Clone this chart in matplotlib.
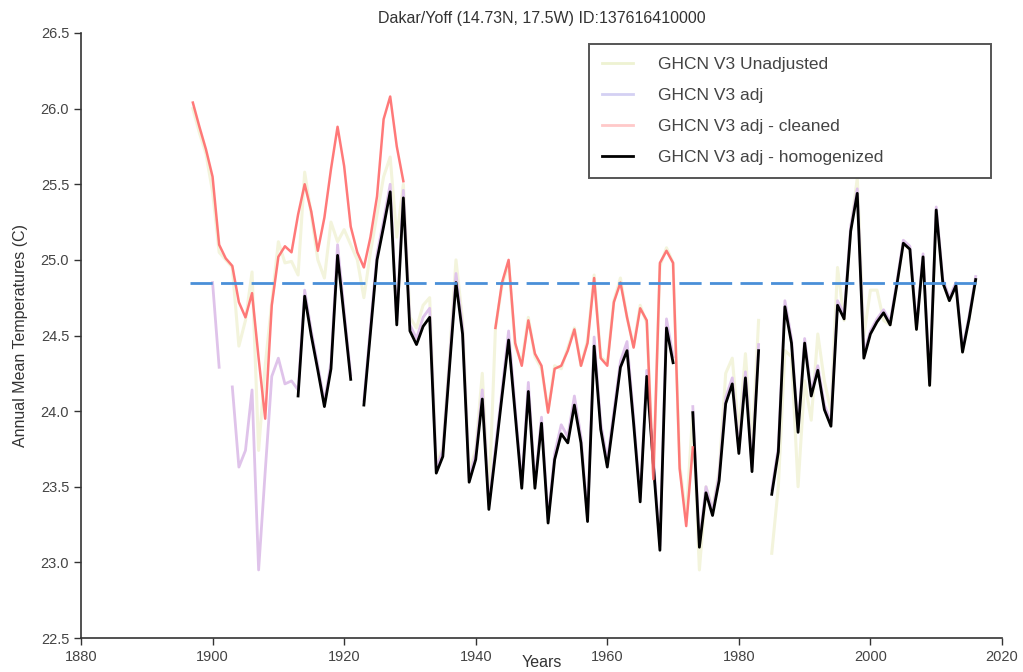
import numpy as np
import matplotlib
matplotlib.use("Agg")
import matplotlib.pyplot as plt
from matplotlib.lines import Line2D

plt.rcParams['font.family'] = ['Liberation Sans', 'DejaVu Sans']

years = np.arange(1897, 2017)

# GHCN V3 unadjusted
unadj = np.array([
    26.00, 25.84, 25.70,
    25.45, 25.05, 25.00, 24.95, 24.43, 24.60, 24.92, 23.74, 24.30, 24.72,
    25.12, 24.98, 24.99, 24.90, 25.58, 25.30, 25.00, 24.88, 25.25, 25.12,
    25.20, 25.10, 25.00, 24.75, 25.05, 25.30, 25.55, 25.68, 25.15, 25.50,
    24.62, 24.55, 24.70, 24.75, 23.65, 23.76, 24.35, 25.00, 24.60, 23.60,
    23.75, 24.25, 23.40, 24.55, 24.83, 24.98, 24.43, 24.32, 24.62, 24.36,
    24.28, 24.00, 24.30, 24.28, 24.42, 24.55, 24.30, 24.47, 24.90, 24.36,
    24.32, 24.73, 24.88, 24.62, 24.43, 24.70, 24.58, 23.58, 24.96, 25.08,
    24.98, 23.65, 23.30, 24.00, 22.95, 23.50, 23.35, 23.60, 24.25, 24.35,
    23.85, 24.38, 23.75, 24.60, None, 23.06, 23.50, 24.40, 24.36, 23.50,
    24.20, 23.94, 24.51, 24.20, 24.00, 24.95, 24.60, 25.20, 25.54, 24.50,
    24.80, 24.80, 24.60, 24.57, 24.83, 25.11, 25.07, 24.54, 25.02, 24.17,
    25.33, 24.85, 24.73, 24.83, 24.39, 24.61, 24.87,
], dtype=float)

# GHCN V3 adj
adj = np.array([
    None, None, None,
    24.85, 24.29, None, 24.16, 23.63, 23.74, 24.14, 22.95, 23.60, 24.23,
    24.35, 24.18, 24.20, 24.14, 24.80, 24.53, 24.30, 24.06, 24.32, 25.10,
    24.66, 24.24, None, 24.07, 24.56, 25.04, 25.26, 25.50, 24.60, 25.46,
    24.57, 24.48, 24.62, 24.68, 23.62, 23.74, 24.32, 24.91, 24.55, 23.56,
    23.72, 24.14, 23.38, 23.76, 24.14, 24.53, 24.02, 23.52, 24.19, 23.52,
    23.96, 23.29, 23.72, 23.91, 23.83, 24.10, 23.83, 23.30, 24.49, 23.92,
    23.67, 24.00, 24.33, 24.46, 23.96, 23.43, 24.27, 23.69, 23.11, 24.61,
    24.36, None, None, 24.03, 23.13, 23.50, 23.34, 23.58, 24.09, 24.22,
    23.75, 24.26, 23.63, 24.44, None, 23.48, 23.76, 24.73, 24.48, 23.89,
    24.48, 24.13, 24.30, 24.04, 23.93, 24.73, 24.64, 25.22, 25.47, 24.38,
    24.53, 24.61, 24.67, 24.59, 24.85, 25.13, 25.09, 24.56, 25.04, 24.19,
    25.35, 24.87, 24.75, 24.85, 24.41, 24.63, 24.89,
], dtype=float)

# GHCN V3 adj - cleaned
cleaned = np.array([
    26.04, 25.88, 25.73,
    25.55, 25.10, 25.01, 24.96, 24.72, 24.62, 24.78, 24.35, 23.95, 24.70,
    25.02, 25.09, 25.05, 25.30, 25.50, 25.32, 25.06, 25.28, 25.60, 25.88,
    25.62, 25.22, 25.05, 24.95, 25.15, 25.42, 25.93, 26.08, 25.75, 25.52,
    None, None, None, None, None, None, None, None, None, None,
    None, None, None, 24.55, 24.85, 25.00, 24.45, 24.30, 24.60, 24.38,
    24.30, 23.99, 24.28, 24.30, 24.40, 24.54, 24.30, 24.45, 24.88, 24.35,
    24.30, 24.72, 24.85, 24.62, 24.42, 24.68, 24.60, 23.55, 24.98, 25.06,
    24.98, 23.62, 23.24, 23.76, None, None, None, None, None, None,
    None, None, None, None, None, None, None, None, None, None,
    None, None, None, None, None, None, None, None, None, None,
    None, None, None, None, None, None, None, None, None, None,
    None, None, None, None, None, None, None,
], dtype=float)

# GHCN V3 adj - homogenized
homog = np.array([
    None, None, None,
    None, None, None, None, None, None, None, None, None, None,
    None, None, None, 24.10, 24.76, 24.50, 24.27, 24.03, 24.28, 25.03,
    24.62, 24.21, None, 24.04, 24.52, 25.00, 25.22, 25.45, 24.57, 25.41,
    24.53, 24.44, 24.56, 24.62, 23.59, 23.70, 24.28, 24.85, 24.51, 23.53,
    23.68, 24.08, 23.35, 23.72, 24.10, 24.47, 23.98, 23.49, 24.13, 23.49,
    23.92, 23.26, 23.68, 23.85, 23.79, 24.04, 23.79, 23.27, 24.43, 23.88,
    23.63, 23.96, 24.29, 24.40, 23.92, 23.40, 24.23, 23.65, 23.08, 24.55,
    24.32, None, None, 23.99, 23.10, 23.46, 23.31, 23.54, 24.05, 24.18,
    23.72, 24.22, 23.60, 24.40, None, 23.45, 23.73, 24.69, 24.45, 23.86,
    24.45, 24.10, 24.27, 24.01, 23.90, 24.70, 24.61, 25.19, 25.44, 24.35,
    24.51, 24.59, 24.65, 24.57, 24.83, 25.11, 25.07, 24.54, 25.02, 24.17,
    25.33, 24.85, 24.73, 24.83, 24.39, 24.61, 24.87,
], dtype=float)

mean_level = 24.85

labels = ['GHCN V3 Unadjusted', 'GHCN V3 adj', 'GHCN V3 adj - cleaned',
          'GHCN V3 adj - homogenized']

fig = plt.figure(figsize=(10.23, 6.72), dpi=100)
ax = fig.add_axes([81 / 1023, 1 - 638 / 672, 921 / 1023, 605 / 672])

ax.plot(years, unadj, color='#f3f4dc', lw=2.2, zorder=1)
ax.plot(years, adj, color='#dfc3ea', lw=2.0, zorder=2)
ax.plot(years, homog, color='black', lw=2.0, zorder=3)
ax.plot(years, cleaned, color='#ff6b6b', lw=1.8, alpha=0.9, zorder=4)
ax.plot([years[0] - 0.5, years[-1]], [mean_level, mean_level],
        color='#4a8fd8', lw=2.0, dashes=(8, 3), zorder=5)

ax.set_xlim(1880, 2020)
ax.set_ylim(22.5, 26.5)
ax.set_xticks(np.arange(1880, 2021, 20))
ax.set_yticks(np.arange(22.5, 26.51, 0.5))
ax.yaxis.set_major_formatter(matplotlib.ticker.FormatStrFormatter('%.1f'))

for s in ['top', 'right']:
    ax.spines[s].set_visible(False)
for s in ['left', 'bottom']:
    ax.spines[s].set_color('#333333')
    ax.spines[s].set_linewidth(1.2)
ax.tick_params(direction='out', length=5, width=1, colors='#333333',
               labelsize=10.5, labelcolor='#444444')

ax.set_title('Dakar/Yoff (14.73N, 17.5W) ID:137616410000', fontsize=11.5,
             color='#333333', pad=7)
ax.set_xlabel('Years', fontsize=11.5, color='#333333', labelpad=-6)
ax.set_ylabel('Annual Mean Temperatures (C)', fontsize=11.5, color='#333333',
              labelpad=9)

handles = [
    Line2D([], [], color='#eef2d2', lw=2),
    Line2D([], [], color='#d4d0f3', lw=2),
    Line2D([], [], color='#ffc9c9', lw=2),
    Line2D([], [], color='black', lw=2),
]
leg = ax.legend(handles, labels, loc='upper left',
                bbox_to_anchor=(0.5516, 0.762, 0.4365, 0.22), mode='expand',
                fontsize=12.5, frameon=True, fancybox=False, framealpha=1,
                edgecolor='#555555', handlelength=1.8, handletextpad=1.4,
                labelspacing=0.92, borderpad=0.75, borderaxespad=0)
leg.get_frame().set_linewidth(1.4)
for t in leg.get_texts():
    t.set_color('#444444')

fig.savefig('out.png', dpi=100)
